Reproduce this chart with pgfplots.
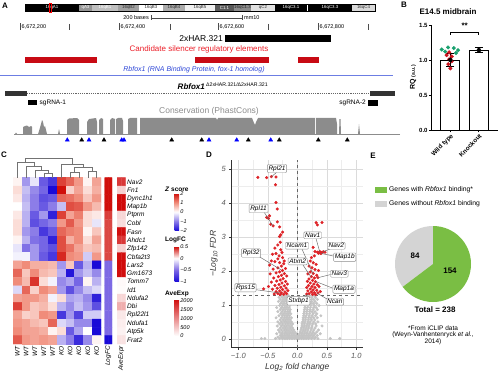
\documentclass[border=0pt]{standalone}
\usepackage{pgfplots}
\pgfplotsset{compat=1.18}
\usepackage{fontspec}
\setmainfont{Liberation Sans}
\newcommand\fs[1]{\fontsize{#1}{#1}\selectfont}
\definecolor{silred}{RGB}{200,10,20}
\definecolor{candred}{RGB}{235,30,40}
\definecolor{rbblue}{RGB}{45,70,215}
\definecolor{consgray}{RGB}{140,140,140}
\definecolor{wtred}{RGB}{205,20,30}
\definecolor{kogreen}{RGB}{25,160,110}
\definecolor{piegreen}{RGB}{122,190,68}
\definecolor{piegray}{RGB}{212,212,212}
\definecolor{volred}{RGB}{222,35,40}
\definecolor{volgray}{RGB}{196,196,196}
\pgfplotsset{
 /pgf/number format/assume math mode=true,
 colormap={zs}{rgb255(0cm)=(25,10,215); rgb255(1cm)=(140,125,232); rgb255(2cm)=(255,255,255); rgb255(3cm)=(240,140,122); rgb255(4cm)=(208,15,10)},
 colormap={lfc}{rgb255(0cm)=(25,10,215); rgb255(1cm)=(125,105,228); rgb255(2cm)=(255,255,255); rgb255(3cm)=(208,15,10)},
 colormap={ave}{rgb255(0cm)=(255,255,255); rgb255(1cm)=(208,10,10)},
}
\begin{document}
\begin{tikzpicture}
\path[use as bounding box] (0,0) rectangle (500pt,377pt);
% ---------------- C: heatmap ----------------
\begin{axis}[at={(13pt,33pt)},anchor=south west,scale only axis,width=88pt,height=166.3pt,
 xmin=-0.5,xmax=9.5,ymin=-0.5,ymax=19.5,y dir=reverse,hide axis,
 colormap name=zs,point meta min=-2,point meta max=2]
\addplot[matrix plot*,mesh/cols=10,point meta=explicit] coordinates {
(0,0)[0.1] (1,0)[-0.8] (2,0)[-0.2] (3,0)[-1.3] (4,0)[-1.6] (5,0)[1.6] (6,0)[1.3] (7,0)[0.9] (8,0)[0.1] (9,0)[0.8]
(0,1)[0.3] (1,1)[-0.5] (2,1)[-0.9] (3,1)[-1.2] (4,1)[-2.0] (5,1)[2.0] (6,1)[0.4] (7,1)[0.8] (8,1)[0.3] (9,1)[0.7]
(0,2)[0.2] (1,2)[-0.6] (2,2)[-1.0] (3,2)[-1.4] (4,2)[-1.3] (5,2)[1.3] (6,2)[1.2] (7,2)[1.0] (8,2)[0.5] (9,2)[0.9]
(0,3)[0.0] (1,3)[-0.5] (2,3)[-1.0] (3,3)[-1.3] (4,3)[-1.0] (5,3)[-0.5] (6,3)[1.5] (7,3)[1.4] (8,3)[0.9] (9,3)[0.6]
(0,4)[0.2] (1,4)[-0.6] (2,4)[-1.3] (3,4)[-0.8] (4,4)[-1.8] (5,4)[1.6] (6,4)[0.8] (7,4)[1.1] (8,4)[0.3] (9,4)[0.2]
(0,5)[0.3] (1,5)[-0.6] (2,5)[-1.4] (3,5)[-1.2] (4,5)[-1.0] (5,5)[0.9] (6,5)[1.4] (7,5)[0.9] (8,5)[0.3] (9,5)[-0.2]
(0,6)[0.3] (1,6)[-0.8] (2,6)[-1.0] (3,6)[-1.6] (4,6)[-1.3] (5,6)[1.3] (6,6)[1.1] (7,6)[1.0] (8,6)[0.1] (9,6)[0.5]
(0,7)[0.1] (1,7)[-0.6] (2,7)[-1.1] (3,7)[-1.2] (4,7)[-1.8] (5,7)[1.5] (6,7)[0.7] (7,7)[1.0] (8,7)[0.3] (9,7)[0.8]
(0,8)[-0.2] (1,8)[-1.1] (2,8)[-0.8] (3,8)[-1.2] (4,8)[-1.4] (5,8)[1.5] (6,8)[1.2] (7,8)[0.8] (8,8)[0.5] (9,8)[0.6]
(0,9)[-0.1] (1,9)[-0.1] (2,9)[-0.8] (3,9)[-1.3] (4,9)[-1.6] (5,9)[1.8] (6,9)[1.0] (7,9)[0.9] (8,9)[-0.4] (9,9)[0.9]
(0,10)[0.8] (1,10)[1.0] (2,10)[0.7] (3,10)[0.7] (4,10)[0.6] (5,10)[-0.8] (6,10)[0.5] (7,10)[-1.3] (8,10)[-0.6] (9,10)[-2.0]
(0,11)[1.3] (1,11)[0.5] (2,11)[1.0] (3,11)[0.6] (4,11)[0.5] (5,11)[-0.6] (6,11)[-1.9] (7,11)[-0.8] (8,11)[-0.5] (9,11)[-0.9]
(0,12)[1.0] (1,12)[0.6] (2,12)[1.7] (3,12)[0.3] (4,12)[-0.1] (5,12)[-0.9] (6,12)[-0.7] (7,12)[-1.2] (8,12)[0.1] (9,12)[-0.6]
(0,13)[-0.3] (1,13)[1.3] (2,13)[0.4] (3,13)[1.0] (4,13)[0.8] (5,13)[-0.8] (6,13)[-1.4] (7,13)[-0.9] (8,13)[-0.5] (9,13)[-0.3]
(0,14)[0.8] (1,14)[0.9] (2,14)[0.9] (3,14)[0.7] (4,14)[-0.1] (5,14)[0.3] (6,14)[-0.7] (7,14)[-0.6] (8,14)[-0.9] (9,14)[-1.8]
(0,15)[1.6] (1,15)[0.9] (2,15)[0.5] (3,15)[0.6] (4,15)[0.3] (5,15)[-0.6] (6,15)[-0.9] (7,15)[-0.5] (8,15)[-0.8] (9,15)[-1.4]
(0,16)[0.8] (1,16)[0.4] (2,16)[0.5] (3,16)[1.0] (4,16)[0.9] (5,16)[-1.6] (6,16)[-0.8] (7,16)[-1.5] (8,16)[-0.4] (9,16)[-0.4]
(0,17)[0.9] (1,17)[0.8] (2,17)[0.6] (3,17)[0.5] (4,17)[1.3] (5,17)[-0.3] (6,17)[-0.5] (7,17)[-0.9] (8,17)[-0.9] (9,17)[-2.0]
(0,18)[1.0] (1,18)[0.8] (2,18)[0.8] (3,18)[0.7] (4,18)[0.1] (5,18)[0.3] (6,18)[-1.3] (7,18)[-0.7] (8,18)[0.0] (9,18)[-2.0]
(0,19)[1.4] (1,19)[0.9] (2,19)[0.8] (3,19)[0.9] (4,19)[0.8] (5,19)[-0.6] (6,19)[-1.0] (7,19)[-1.7] (8,19)[-0.9] (9,19)[0.1]
};
\end{axis}
\begin{axis}[at={(104.7pt,33pt)},anchor=south west,scale only axis,width=7.3pt,height=166.3pt,
 xmin=-0.5,xmax=1.5,ymin=-0.5,ymax=19.5,y dir=reverse,hide axis,
 colormap name=lfc,point meta min=-1,point meta max=0.5]
\addplot[matrix plot*,mesh/cols=2,point meta=explicit] coordinates {
(0,0)[0.5] (1,0)[0.5] (0,1)[0.5] (1,1)[0.5] (0,2)[0.5] (1,2)[0.5] (0,3)[0.5] (1,3)[0.5]
(0,4)[0.4] (1,4)[0.4] (0,5)[0.38] (1,5)[0.38] (0,6)[0.38] (1,6)[0.38] (0,7)[0.38] (1,7)[0.38]
(0,8)[0.38] (1,8)[0.38] (0,9)[0.38] (1,9)[0.38] (0,10)[-0.5] (1,10)[-0.5] (0,11)[-0.5] (1,11)[-0.5]
(0,12)[-0.5] (1,12)[-0.5] (0,13)[-0.5] (1,13)[-0.5] (0,14)[-0.5] (1,14)[-0.5] (0,15)[-0.5] (1,15)[-0.5]
(0,16)[-0.5] (1,16)[-0.5] (0,17)[-0.5] (1,17)[-0.5] (0,18)[-0.5] (1,18)[-0.5] (0,19)[-1.0] (1,19)[-1.0]
};
\end{axis}
\begin{axis}[at={(117pt,33pt)},anchor=south west,scale only axis,width=8.5pt,height=166.3pt,
 xmin=-0.5,xmax=1.5,ymin=-0.5,ymax=19.5,y dir=reverse,hide axis,
 colormap name=ave,point meta min=0,point meta max=2100]
\addplot[matrix plot*,mesh/cols=2,point meta=explicit] coordinates {
(0,0)[1700] (1,0)[1700] (0,1)[400] (1,1)[400] (0,2)[2100] (1,2)[2100] (0,3)[2100] (1,3)[2100]
(0,4)[350] (1,4)[350] (0,5)[300] (1,5)[300] (0,6)[2050] (1,6)[2050] (0,7)[1700] (1,7)[1700]
(0,8)[400] (1,8)[400] (0,9)[2050] (1,9)[2050] (0,10)[2100] (1,10)[2100] (0,11)[2050] (1,11)[2050]
(0,12)[50] (1,12)[50] (0,13)[30] (1,13)[30] (0,14)[350] (1,14)[350] (0,15)[700] (1,15)[700]
(0,16)[200] (1,16)[200] (0,17)[150] (1,17)[150] (0,18)[120] (1,18)[120] (0,19)[250] (1,19)[250]
};
\end{axis}
% colorbars
\pgfplotscolorbardrawstandalone[colormap name=zs,point meta min=-2,point meta max=2,
 colorbar style={at={(166pt,183.7pt)},anchor=north west,scale only axis,width=4.7pt,height=37.4pt,
 ytick={-2,-1,0,1,2},yticklabels={−2,−1,0,1,2},yticklabel style={font=\fs{5.5}\itshape,inner sep=1pt},
 major tick length=0pt,axis line style={draw=none}}]
\pgfplotscolorbardrawstandalone[colormap name=lfc,point meta min=-1,point meta max=0.5,
 colorbar style={at={(166pt,130.3pt)},anchor=north west,scale only axis,width=4.7pt,height=35pt,
 ytick={-1,-0.5,0,0.5},yticklabels={−1,−0.5,0,0.5},yticklabel style={font=\fs{5.5}\itshape,inner sep=1pt},
 major tick length=0pt,axis line style={draw=none}}]
\pgfplotscolorbardrawstandalone[colormap name=ave,point meta min=0,point meta max=2100,
 colorbar style={at={(166pt,78pt)},anchor=north west,scale only axis,width=4.7pt,height=37pt,
 ytick={0,500,1000,1500,2000},yticklabels={0,500,1000,1500,2000},yticklabel style={font=\fs{5.5}\itshape,inner sep=1pt},
 major tick length=0pt,axis line style={draw=none}}]
% ---------------- D: volcano ----------------
\begin{axis}[at={(231.3pt,29.3pt)},anchor=south west,scale only axis,width=132pt,height=187.7pt,
 xmin=-1.12,xmax=1.12,ymin=-0.25,ymax=5.27,axis lines*=left,
 axis line style={black!80,line width=0.6pt},
 xtick={-1,-0.5,0,0.5,1},xticklabels={−1.0,−0.5,0.0,0.5,1.0},ytick={0,1,2,3,4,5},
 minor xtick={-0.75,-0.25,0.25,0.75},minor ytick={0.5,1.5,2.5,3.5,4.5},
 grid=both,major grid style={black!14,line width=0.5pt},minor grid style={black!7,line width=0.4pt},
 tick align=outside,major tick length=2pt,minor tick length=0pt,tick style={black!80},
 ticklabel style={font=\fs{7.5}\itshape,text=black!65},
 xlabel={\textit{Log\textsubscript{2} fold change}},ylabel={\textit{−Log\textsubscript{10} FDR}},
 label style={font=\fs{8.5},text=black!80},
 xlabel style={yshift=2pt},ylabel style={yshift=-3pt}]
\addplot[only marks,mark=*,mark size=1.3pt,color=volgray,mark options={fill=volgray,draw=volgray}] coordinates {
(-0.61,0.02)(-0.55,0.02)(-0.37,0.02)(-0.30,0.02)(-0.25,0.02)(-0.21,0.02)(-0.17,0.02)(-0.13,0.02)(-0.09,0.02)(-0.05,0.02)(-0.01,0.02)(0.03,0.02)(0.07,0.02)(0.11,0.02)(0.15,0.02)(0.19,0.02)(0.24,0.02)(0.29,0.02)(0.35,0.02)(0.56,0.02)(0.72,0.02)
(-0.33,0.06)(-0.27,0.06)(-0.23,0.06)(-0.19,0.06)(-0.15,0.06)(-0.11,0.06)(-0.07,0.06)(-0.03,0.06)(0.01,0.06)(0.05,0.06)(0.09,0.06)(0.13,0.06)(0.17,0.06)(0.21,0.06)(0.26,0.06)(0.31,0.06)
(-0.29,0.11)(-0.25,0.11)(-0.21,0.11)(-0.17,0.11)(-0.13,0.11)(-0.09,0.11)(-0.05,0.11)(-0.01,0.11)(0.03,0.11)(0.07,0.11)(0.11,0.11)(0.15,0.11)(0.19,0.11)(0.23,0.11)(0.28,0.11)(0.34,0.11)
(-0.35,0.16)(-0.27,0.16)(-0.22,0.16)(-0.18,0.16)(-0.14,0.16)(-0.10,0.16)(-0.06,0.16)(-0.02,0.16)(0.04,0.16)(0.08,0.16)(0.12,0.16)(0.16,0.16)(0.20,0.16)(0.25,0.16)(0.30,0.16)(0.39,0.16)
(-0.30,0.21)(-0.25,0.21)(-0.20,0.21)(-0.16,0.21)(-0.12,0.21)(-0.08,0.21)(-0.04,0.21)(0.05,0.21)(0.09,0.21)(0.13,0.21)(0.17,0.21)(0.22,0.21)(0.27,0.21)(0.33,0.21)
(-0.32,0.27)(-0.27,0.27)(-0.22,0.27)(-0.18,0.27)(-0.14,0.27)(-0.10,0.27)(-0.06,0.27)(0.06,0.27)(0.10,0.27)(0.14,0.27)(0.18,0.27)(0.23,0.27)(0.28,0.27)(0.36,0.27)
(-0.29,0.33)(-0.24,0.33)(-0.20,0.33)(-0.16,0.33)(-0.12,0.33)(-0.08,0.33)(0.07,0.33)(0.11,0.33)(0.15,0.33)(0.19,0.33)(0.24,0.33)(0.30,0.33)
(-0.34,0.39)(-0.27,0.39)(-0.22,0.39)(-0.18,0.39)(-0.14,0.39)(-0.10,0.39)(0.08,0.39)(0.12,0.39)(0.16,0.39)(0.20,0.39)(0.25,0.39)(0.32,0.39)(0.42,0.39)
(-0.30,0.45)(-0.25,0.45)(-0.20,0.45)(-0.16,0.45)(-0.12,0.45)(-0.08,0.45)(0.08,0.45)(0.12,0.45)(0.17,0.45)(0.21,0.45)(0.26,0.45)(0.31,0.45)
(-0.33,0.51)(-0.27,0.51)(-0.22,0.51)(-0.18,0.51)(-0.14,0.51)(-0.10,0.51)(0.09,0.51)(0.13,0.51)(0.18,0.51)(0.22,0.51)(0.28,0.51)(0.35,0.51)
(-0.29,0.57)(-0.24,0.57)(-0.20,0.57)(-0.16,0.57)(-0.12,0.57)(0.10,0.57)(0.14,0.57)(0.19,0.57)(0.24,0.57)(0.30,0.57)
(-0.36,0.63)(-0.27,0.63)(-0.22,0.63)(-0.18,0.63)(-0.14,0.63)(-0.10,0.63)(0.10,0.63)(0.14,0.63)(0.19,0.63)(0.23,0.63)(0.28,0.63)(0.34,0.63)
(-0.31,0.69)(-0.25,0.69)(-0.21,0.69)(-0.17,0.69)(-0.13,0.69)(0.11,0.69)(0.15,0.69)(0.20,0.69)(0.25,0.69)(0.31,0.69)(0.40,0.69)
(-0.28,0.75)(-0.23,0.75)(-0.19,0.75)(-0.15,0.75)(-0.11,0.75)(0.11,0.75)(0.16,0.75)(0.21,0.75)(0.27,0.75)(0.33,0.75)
(-0.33,0.81)(-0.26,0.81)(-0.21,0.81)(-0.17,0.81)(-0.13,0.81)(0.12,0.81)(0.16,0.81)(0.21,0.81)(0.25,0.81)(0.30,0.81)
(-0.29,0.87)(-0.24,0.87)(-0.20,0.87)(-0.16,0.87)(-0.12,0.87)(0.12,0.87)(0.17,0.87)(0.22,0.87)(0.27,0.87)(0.34,0.87)
(-0.35,0.93)(-0.27,0.93)(-0.22,0.93)(-0.18,0.93)(-0.14,0.93)(0.13,0.93)(0.17,0.93)(0.22,0.93)(0.28,0.93)(0.32,0.93)
(-0.30,0.99)(-0.25,0.99)(-0.21,0.99)(-0.17,0.99)(-0.13,0.99)(0.13,0.99)(0.18,0.99)(0.23,0.99)(0.29,0.99)(0.37,0.99)
(-0.28,1.05)(-0.23,1.05)(-0.19,1.05)(-0.15,1.05)(0.14,1.05)(0.18,1.05)(0.23,1.05)(0.27,1.05)(0.33,1.05)
(-0.32,1.11)(-0.26,1.11)(-0.22,1.11)(-0.18,1.11)(-0.14,1.11)(0.14,1.11)(0.19,1.11)(0.24,1.11)(0.30,1.11)
(-0.29,1.17)(-0.24,1.17)(-0.20,1.17)(-0.16,1.17)(0.15,1.17)(0.19,1.17)(0.24,1.17)(0.28,1.17)(0.34,1.17)
(-0.31,1.23)(-0.26,1.23)(-0.22,1.23)(-0.18,1.23)(-0.15,1.23)(0.15,1.23)(0.20,1.23)(0.25,1.23)(0.31,1.23)
(-0.27,1.28)(-0.23,1.28)(-0.19,1.28)(-0.15,1.28)(0.16,1.28)(0.21,1.28)(0.26,1.28)(0.30,1.28)
};
\addplot[only marks,mark=*,mark size=1.35pt,color=volred,mark options={fill=volred,draw=volred}] coordinates {
(-0.67,4.76)(-0.52,4.75)(-0.44,4.78)(-0.36,4.77)(-0.37,4.54)(-0.36,4.02)(-0.34,3.83)(-0.47,3.63)(-0.52,3.58)(-0.49,3.55)
(-0.45,3.38)(-0.41,3.33)(-0.34,3.45)(-0.30,3.30)(-0.28,3.07)(-0.30,3.02)(-0.33,2.77)(-0.28,2.63)(-0.42,2.50)(-0.36,2.52)
(-0.31,2.45)(-0.25,2.40)(-0.44,2.30)(-0.38,2.28)(-0.30,2.25)(-0.23,2.22)(-0.27,2.15)(-0.33,2.10)(-0.41,2.06)(-0.20,2.08)
(-0.25,2.02)(-0.30,1.98)(-0.36,1.95)(-0.46,1.92)(-0.22,1.93)(-0.27,1.88)(-0.18,1.86)(-0.32,1.84)(-0.40,1.80)(-0.24,1.78)
(-0.29,1.74)(-0.35,1.71)(-0.20,1.70)(-0.44,1.68)(-0.26,1.65)(-0.31,1.61)(-0.17,1.62)(-0.38,1.58)(-0.22,1.57)(-0.28,1.53)
(-0.34,1.50)(-0.19,1.50)(-0.42,1.47)(-0.25,1.46)(-0.30,1.42)(-0.16,1.43)(-0.36,1.40)(-0.21,1.39)(-0.27,1.36)(-0.33,1.34)
(-0.18,1.34)(-0.39,1.33)(-0.23,1.32)(-0.29,1.31)(-0.57,1.48)(-0.49,1.55)(-0.47,2.18)(-0.22,2.30)(-0.33,2.36)(-0.26,2.55)
(-0.38,2.68)(-0.29,2.85)(-0.25,3.15)
(0.32,3.43)(0.34,3.36)(0.42,3.43)(0.27,2.70)(0.30,2.58)(0.34,2.56)(0.38,2.58)(0.41,2.55)(0.44,2.57)(0.47,2.56)
(0.36,2.53)(0.40,2.52)(0.29,2.45)(0.24,2.40)(0.22,2.30)(0.27,2.25)(0.32,2.20)(0.20,2.15)(0.25,2.10)(0.30,2.05)
(0.36,2.02)(0.22,1.98)(0.27,1.93)(0.18,1.92)(0.33,1.88)(0.24,1.84)(0.29,1.80)(0.35,1.81)(0.20,1.77)(0.26,1.73)
(0.31,1.69)(0.17,1.70)(0.22,1.65)(0.28,1.62)(0.34,1.60)(0.19,1.58)(0.25,1.55)(0.30,1.52)(0.16,1.52)(0.22,1.48)
(0.27,1.45)(0.33,1.44)(0.18,1.42)(0.24,1.39)(0.29,1.37)(0.35,1.36)(0.20,1.34)(0.26,1.32)(0.16,1.33)(0.31,1.31)
(0.39,1.40)(0.37,1.55)
};
\draw[black!60,dashed,line width=0.5pt] (-1.12,1.3)--(1.12,1.3);
\draw[black!60,dashed,line width=0.5pt] (0,-0.25)--(0,5.27);
\end{axis}
% ---------------- B: bars ----------------
\begin{axis}[at={(431.7pt,247pt)},anchor=south west,scale only axis,width=66.3pt,height=105pt,
 xmin=-0.653,xmax=1.67,ymin=0,ymax=1.5,axis lines*=left,
 axis line style={line width=0.8pt},tick style={line width=0.8pt,black},tick align=outside,major tick length=2.5pt,
 xtick={0,1},xticklabels={Wild type,Knockout},xticklabel style={rotate=45,anchor=north east,font=\bfseries\fs{6.3},inner sep=0.5pt},
 ytick={0,0.5,1,1.5},yticklabels={0.0,0.5,1.0,1.5},yticklabel style={font=\bfseries\fs{6},inner sep=1.5pt},
 ylabel={RQ {\fs{5}(a.u.)}},ylabel style={font=\bfseries\fs{7},yshift=-2pt},clip=false]
\addplot[ybar,bar width=19pt,fill=white,draw=black,line width=0.9pt] coordinates {(0,1.0) (1,1.14)};
\addplot[only marks,mark=*,mark size=1.8pt,color=wtred,mark options={fill=wtred,draw=wtred}] coordinates {
(-0.04,1.11) (-0.13,1.07) (0.05,1.05) (-0.04,1.01) (0.05,0.98) (-0.07,0.94) (0.0,0.88)};
\addplot[only marks,mark=*,mark size=1.8pt,color=kogreen,mark options={fill=kogreen,draw=kogreen}] coordinates {
(-0.30,1.15) (-0.08,1.18) (0.12,1.17) (0.27,1.14) (-0.18,1.12) (0.20,1.10)};
\addplot[only marks,mark=none,black,error bars/.cd,y dir=both,y explicit,
 error bar style={line width=0.9pt,black},error mark options={rotate=90,mark size=4pt,line width=0.9pt,black}]
 coordinates {(0,1.0) +- (0,0.09) (1,1.14) +- (0,0.035)};
\draw[line width=0.8pt] (axis cs:0,1.36)--(axis cs:0,1.40)--(axis cs:1,1.40)--(axis cs:1,1.36);
\node[font=\bfseries\fs{8}] at (axis cs:0.5,1.49) {**};
\end{axis}
% ---------------- canvas in pixel units ----------------
\begin{axis}[at={(0pt,0pt)},anchor=south west,scale only axis,width=500pt,height=377pt,
 xmin=0,xmax=500,ymin=0,ymax=377,y dir=reverse,hide axis,clip=false]
% panel letters
\node[font=\bfseries\fs{8}] at (5,6) {A};
\node[font=\bfseries\fs{8}] at (404,5) {B};
\node[font=\bfseries\fs{8}] at (4,155) {C};
\node[font=\bfseries\fs{8}] at (209,155) {D};
\node[font=\bfseries\fs{8}] at (373,156) {E};
% ideogram
\fill[black] (25,4) rectangle (79,11);
\fill[black!42] (79,4) rectangle (92,11);
\fill[black!25] (92,4) rectangle (118,11);
\fill[black!37] (118,4) rectangle (139,11);
\fill[white] (139,4) rectangle (163,11);
\fill[black!33] (163,4) rectangle (185,11);
\fill[black!6] (185,4) rectangle (215,11);
\fill[black!65] (215,4) rectangle (234,11);
\fill[black!45] (234,4) rectangle (251,11);
\fill[black!12] (251,4) rectangle (275,11);
\fill[black] (275,4) rectangle (307,11);
\fill[black] (308,4) rectangle (352,11);
\fill[black!15] (352,4) rectangle (375,11);
\draw[black,line width=0.4pt] (25,4) rectangle (375,11);
\begin{scope}[every node/.style={font=\fs{4.4},inner sep=0pt}]
\node[text=white] at (52,7.6) {16qA1};
\node[text=white] at (85.5,7.6) {qA3};
\node[text=white] at (105,7.6) {16qB1};
\node[text=black!80] at (128.5,7.6) {16qB2};
\node[text=black!80] at (151,7.6) {16qB3};
\node[text=black!80] at (174,7.6) {16qB4};
\node[text=black!80] at (200,7.6) {16qB5};
\node[text=white] at (224.5,7.6) {C1.1};
\node[text=black!85] at (242.5,7.6) {16qC1.3};
\node[text=black!80] at (263,7.6) {qC2};
\node[text=white] at (291,7.6) {16qC3.1};
\node[text=white] at (330,7.6) {16qC3.3};
\node[text=black!80] at (363.5,7.6) {16qC4};
\end{scope}
\draw[red,line width=0.6pt] (49,3) rectangle (51,12);
% scale
\node[anchor=east,font=\fs{5.5},inner sep=1pt] at (150,18) {200 bases};
\draw[black!70,line width=0.4pt] (151,15.5)--(151,20.5) (151,18)--(242,18) (242,15.5)--(242,20.5);
\node[anchor=west,font=\fs{5.5},inner sep=1pt] at (243,18) {mm10};
% coordinates
\draw[black!70,line width=0.4pt] (20,23.5)--(20,30.5) (119,23.5)--(119,30.5) (218,23.5)--(218,30.5) (318,23.5)--(318,30.5)
 (69,24)--(69,30) (170,24)--(170,30) (268,24)--(268,30) (368,24)--(368,30);
\node[anchor=west,font=\fs{5.5},inner sep=1pt] at (20.5,27.3) {6,672,200};
\node[anchor=west,font=\fs{5.5},inner sep=1pt] at (119.5,27.3) {6,672,400};
\node[anchor=west,font=\fs{5.5},inner sep=1pt] at (218.5,27.3) {6,672,600};
\node[anchor=west,font=\fs{5.5},inner sep=1pt] at (318.5,27.3) {6,672,800};
% HAR
\node[anchor=east,font=\fs{8.5},inner sep=1pt] at (224,38.5) {2xHAR.321};
\fill[black] (225,35) rectangle (331,42);
\node[font=\fs{8},text=candred,inner sep=0pt] at (199,49.5) {Candidate silencer regulatory elements};
\fill[silred] (25,57) rectangle (97,63);
\fill[silred] (195,57) rectangle (269,63);
\fill[silred] (298,57) rectangle (319,63);
\node[font=\fs{7}\itshape,text=rbblue,inner sep=0pt] at (194,70) {Rbfox1 (RNA Binding Protein, fox-1 homolog)};
\draw[rbblue!70,line width=0.5pt] (0,75.5)--(393,75.5);
\node[font=\fs{8}\bfseries\itshape,inner sep=0pt] at (223,86.5) {Rbfox1\,\textsuperscript{\fs{5.2}\mdseries\upshape Δ2xHAR.321/Δ2xHAR.321}};
\fill[black!80] (5,91) rectangle (27,96);
\draw[black!60,line width=1.2pt,dash pattern=on 1.1pt off 1.1pt] (27,93.5)--(370,93.5);
\fill[black!80] (370,91) rectangle (395,96);
\fill[black] (28,100) rectangle (37,105);
\node[anchor=west,font=\fs{6.5},inner sep=0pt] at (39.5,102.5) {sgRNA-1};
\fill[black] (368,100) rectangle (378,106);
\node[anchor=east,font=\fs{6.5},inner sep=0pt] at (366,103) {sgRNA-2};
\node[font=\fs{8.5},text=black!45,inner sep=0pt] at (209,111) {Conservation (PhastCons)};
% conservation track
\addplot[fill=consgray,draw=none] coordinates {
(15,134)(16,132.5)(17,134)(23,134)(23,127)(25,126)(27,125.5)(29,127)(31,126)(32,127)(32,134)
(38,134)(39,131)(41,124)(42,120)(43,122)(44,127)(45,126)(46,130)(47,134)(58,134)(59,129)(60,134)
(67,134)(67,120)(69,118.5)(77,118)(79,120)(79,134)(87,134)(87,122)(89,119)(96,118)(97,122)(97,134)
(99,134)(99,120)(101,118)(103,119)(103,134)(110,134)(110,120)(112,118)(115,119)(115,134)
(116,134)(116,119)(118,118)(122,118)(123,121)(123,134)(128,134)(128,119)(130,118)(137,118)(137,134)
(140,134)(140,118)(216,118)(217,120)(218,118)(252,118)(254,123)(255,125)(256,122)(258,118)
(315,118)(315,134)(316,134)(316,118)(336,118)(337,124)(337,134)(339,134)(339.5,119)(340.5,119)(341,134)
(358,134)(359,124)(360,134)(400,134)
};
\draw[consgray,line width=0.5pt] (14,134)--(400,134);
\addplot[only marks,mark=triangle*,mark size=2.3pt,black] coordinates {
(81.7,140)(104,140)(171.7,140)(201.7,140)(248.3,140)(279.3,140)(318.3,140)(347.3,140)};
\addplot[only marks,mark=triangle*,mark size=2.3pt,blue] coordinates {
(67.3,140)(89,140)(121.7,140)(124,140)(209,140)(236.7,140)(270.7,140)};
% B title
\node[font=\bfseries\fs{8}] at (448,12) {E14.5 midbrain};
% C dendrogram
\draw[black!55,line width=0.5pt]
 (43.8,177.7)--(43.8,173)--(52.6,173)--(52.6,177.7)
 (35.0,177.7)--(35.0,170)--(48.2,170)--(48.2,173)
 (26.2,177.7)--(26.2,166)--(41.6,166)--(41.6,170)
 (17.4,177.7)--(17.4,162)--(33.9,162)--(33.9,166)
 (70.2,177.7)--(70.2,172)--(79.0,172)--(79.0,177.7)
 (87.8,177.7)--(87.8,171)--(96.6,171)--(96.6,177.7)
 (74.6,172)--(74.6,167)--(92.2,167)--(92.2,171)
 (61.4,177.7)--(61.4,164)--(83.4,164)--(83.4,167)
 (25.65,162)--(25.65,158)--(72.4,158)--(72.4,164);
\begin{scope}[every node/.style={font=\fs{6.5}\itshape,anchor=west,inner sep=0pt}]
\node at (127,181.9) {Nav2};
\node at (127,190.2) {Fn1};
\node at (127,198.5) {Dync1h1};
\node at (127,206.8) {Map1b};
\node at (127,215.1) {Ptprm};
\node at (127,223.4) {Cobl};
\node at (127,231.8) {Fasn};
\node at (127,240.1) {Ahdc1};
\node at (127,248.4) {Zfp142};
\node at (127,256.7) {Cbfa2t3};
\node at (127,265.0) {Lars2};
\node at (127,273.3) {Gm1673};
\node at (127,281.6) {Tomm7};
\node at (127,289.9) {Id1};
\node at (127,298.2) {Ndufa2};
\node at (127,306.6) {Dbi};
\node at (127,314.9) {Rpl22l1};
\node at (127,323.2) {Ndufa1};
\node at (127,331.5) {Atp5k};
\node at (127,339.8) {Frat2};
\end{scope}
\begin{scope}[every node/.style={font=\fs{6.5}\itshape,anchor=east,rotate=90,inner sep=0pt}]
\node at (17.4,346) {WT};
\node at (26.2,346) {WT};
\node at (35.0,346) {WT};
\node at (43.8,346) {WT};
\node at (52.6,346) {WT};
\node at (61.4,346) {KO};
\node at (70.2,346) {KO};
\node at (79.0,346) {KO};
\node at (87.8,346) {KO};
\node at (96.6,346) {KO};
\node at (108.3,346) {LogFC};
\node at (121.2,346) {AveExpr};
\end{scope}
\node[anchor=west,font=\fs{6.5}\bfseries,inner sep=0pt] at (165,189) {\textit{Z} score};
\node[anchor=west,font=\fs{6.5}\bfseries,inner sep=0pt] at (165,240) {LogFC};
\node[anchor=west,font=\fs{6.5}\bfseries,inner sep=0pt] at (165,294) {AveExp};
% D labels
\draw[black!60,line width=0.45pt]
 (277,172)--(271.4,176.8) (264,212)--(273,226) (259,256.5)--(281.3,270) (254.5,289.5)--(280,293)
 (302,249)--(313,274) (303,265)--(311,277) (305,297.5)--(308,294)
 (316,238.5)--(319.7,251.7) (330,249)--(323,251.7) (333,256)--(321.3,253.3)
 (330.7,274.5)--(318,277.7) (332.3,288)--(316.3,281.7) (327,299)--(317.3,293.3);
\begin{scope}[every node/.style={font=\fs{6.5}\itshape,draw=black!45,fill=white,rounded corners=1pt,inner sep=1.2pt,line width=0.4pt}]
\node at (277,168.5) {Rpl21};
\node at (258.5,208.5) {Rpl11};
\node at (251,253) {Rpl32};
\node at (245.5,287.7) {Rps15};
\node at (297,245.7) {Ncam1};
\node at (297.7,261.3) {Atxn2};
\node at (298.5,300.8) {Stxbp1};
\node at (312.7,235.3) {Nav1};
\node at (336.3,245.7) {Nav2};
\node at (344.7,257.2) {Map1b};
\node at (339.3,273.7) {Nav3};
\node at (344,289.2) {Map1a};
\node at (334.8,301.7) {Ncan};
\end{scope}
% E pie (154 with binding, 84 without; total 238)
\fill[piegray] (433,264)--(433,226) arc[start angle=90,end angle=217.06,radius=38pt]--cycle;
\fill[piegreen] (433,264)--(433,226) arc[start angle=90,end angle=-142.94,radius=38pt]--cycle;
\node[font=\bfseries\fs{8}] at (415,256) {84};
\node[font=\bfseries\fs{8}] at (450,271) {154};
\node[font=\bfseries\fs{8}] at (435,309.5) {Total = 238};
\node[font=\fs{6.5},align=center,inner sep=0pt] at (433,335) {*From iCLIP data\\(Weyn-Vanhentenryck \textit{et al.},\\2014)};
\fill[piegreen] (375,187) rectangle (387,193);
\fill[piegray] (375,201) rectangle (387,207);
\node[anchor=west,font=\fs{6.8},inner sep=0pt] at (389,190) {Genes with \textit{Rbfox1} binding*};
\node[anchor=west,font=\fs{6.8},inner sep=0pt] at (389,204) {Genes without \textit{Rbfox1} binding};
\end{axis}
\end{tikzpicture}
\end{document}
